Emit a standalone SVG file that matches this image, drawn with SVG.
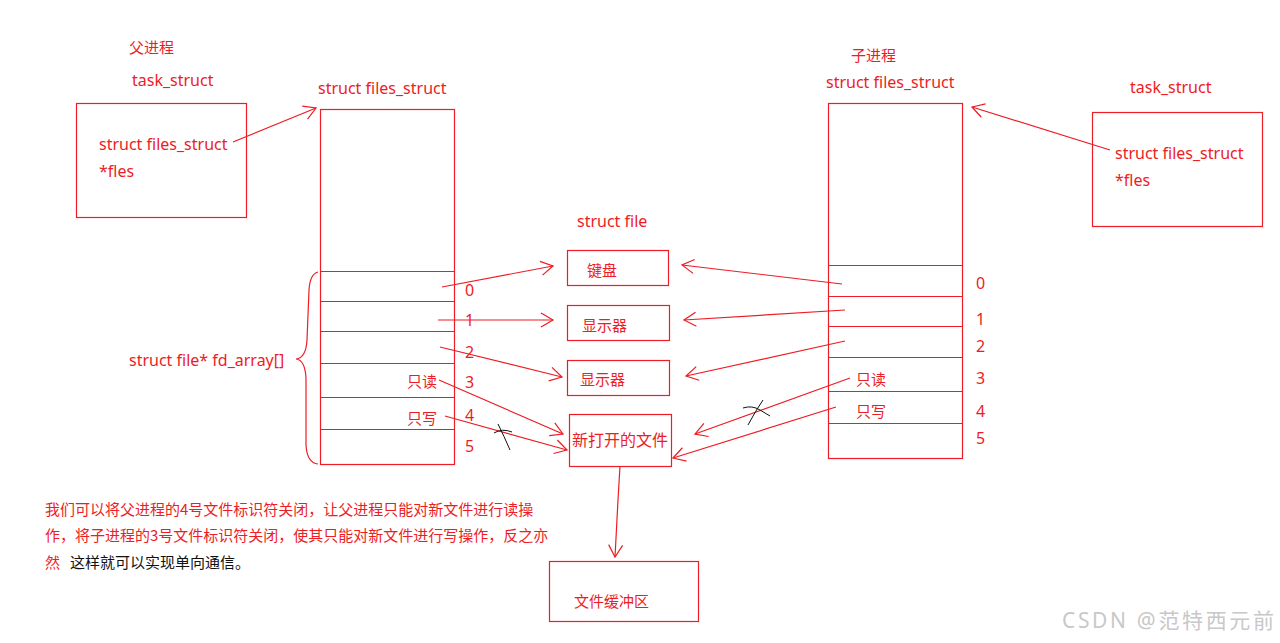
<svg xmlns="http://www.w3.org/2000/svg" width="1280" height="643" viewBox="0 0 1280 643">
<defs>
<style>
.t{font-family:"Noto Sans","Noto Sans CJK SC",sans-serif;font-size:16px;fill:#ee1c24}
.c{font-family:"Noto Sans CJK SC",sans-serif;font-size:15px;fill:#ee1c24}
.p{font-family:"Noto Sans CJK SC",sans-serif;font-size:15px;fill:#ee1c24}
.box{fill:none;stroke:#ee1c24;stroke-width:1.2}
.ln{stroke:#ee1c24;stroke-width:1.2}
.ar{fill:none;stroke:#ee1c24;stroke-width:1.2;marker-end:url(#ah)}
.x{fill:none;stroke:#111;stroke-width:1}
</style>
<marker id="ah" viewBox="-14 -8 16 16" refX="0" refY="0" markerWidth="16" markerHeight="16" markerUnits="userSpaceOnUse" orient="auto">
<polyline points="-12,-7 0,0 -12,7" fill="none" stroke="#ee1c24" stroke-width="1.2"/>
</marker>
</defs>
<rect width="1280" height="643" fill="#fff"/>

<g id="parent-task">
<text x="129" y="53" class="c">父进程</text>
<text x="132" y="86" class="t">task_struct</text>
<rect x="76.5" y="103.5" width="170" height="114" class="box"/>
<text x="99" y="150" class="t">struct files_struct</text>
<text x="99" y="177" class="t">*fles</text>
</g>

<g id="parent-files">
<text x="318" y="94" class="t">struct files_struct</text>
<rect x="320.5" y="109.5" width="134" height="355" class="box"/>
<path d="M320 271.5H454M320 301.5H454M320 331.5H454M320 363.5H454M320 397.5H454M320 429.5H454" class="ln"/>
<text x="465" y="296" class="t">0</text>
<text x="465" y="326" class="t">1</text>
<text x="465" y="358" class="t">2</text>
<text x="465" y="388" class="t">3</text>
<text x="465" y="421" class="t">4</text>
<text x="465" y="452" class="t">5</text>
<text x="407" y="387" class="c">只读</text>
<text x="407" y="424" class="c">只写</text>
<path d="M318 272 Q310 274 309 290 L307 340 Q306 358 296 359 Q305 360 306 378 L306 445 Q307 463 318 464" fill="none" class="ln"/>
<text x="129" y="366" class="t">struct file* fd_array[]</text>
</g>

<g id="struct-file">
<text x="577" y="227" class="t">struct file</text>
</g>
<g id="keyboard">
<rect x="567.5" y="250.5" width="101" height="35" class="box"/>
<text x="587" y="276" class="c">键盘</text>
</g>
<g id="display1">
<rect x="567.5" y="305.5" width="102" height="35" class="box"/>
<text x="582" y="331" class="c">显示器</text>
</g>
<g id="display2">
<rect x="567.5" y="360.5" width="102" height="35" class="box"/>
<text x="580" y="385" class="c">显示器</text>
</g>
<g id="newfile">
<rect x="569.5" y="414.5" width="102" height="52" class="box"/>
<text x="572" y="446" class="c" style="font-size:16px">新打开的文件</text>
</g>
<g id="buffer">
<rect x="549.5" y="561.5" width="149" height="60" class="box"/>
<text x="574" y="607" class="c">文件缓冲区</text>
</g>

<g id="child-files">
<text x="851" y="61" class="c">子进程</text>
<text x="826" y="88" class="t">struct files_struct</text>
<rect x="828.5" y="103.5" width="134" height="355" class="box"/>
<path d="M828 265.5H962M828 296.5H962M828 326.5H962M828 357.5H962M828 391.5H962M828 423.5H962" class="ln"/>
<text x="976" y="289" class="t">0</text>
<text x="976" y="325" class="t">1</text>
<text x="976" y="352" class="t">2</text>
<text x="976" y="384" class="t">3</text>
<text x="976" y="417" class="t">4</text>
<text x="976" y="444" class="t">5</text>
<text x="856" y="385" class="c">只读</text>
<text x="856" y="417" class="c">只写</text>
</g>

<g id="child-task">
<text x="1130" y="93" class="t">task_struct</text>
<rect x="1092.5" y="112.5" width="170" height="114" class="box"/>
<text x="1115" y="159" class="t">struct files_struct</text>
<text x="1115" y="186" class="t">*fles</text>
</g>

<g id="connectors">
<path d="M233 142L316 108" class="ar"/>
<path d="M1110 150L972 107" class="ar"/>
<path d="M442 287L553 266" class="ar"/>
<path d="M438 320L553 320" class="ar"/>
<path d="M440 347L562 377" class="ar"/>
<path d="M439 380L563 434" class="ar"/>
<path d="M445 416L567 450" class="ar"/>
<path d="M842 284L682 265" class="ar"/>
<path d="M845 310L684 320" class="ar"/>
<path d="M845 341L686 376" class="ar"/>
<path d="M850 378L695 434" class="ar"/>
<path d="M836 407L673 458" class="ar"/>
<path d="M620 466L618 500L615 557" class="ar"/>
<path d="M494 433Q502 428 512 432M498 424Q504 436 510 450" class="x"/>
<path d="M743 408Q752 405 760 410L770 416M763 400Q756 410 748 425" class="x"/>
</g>

<g id="note">
<text x="45" y="515" class="p">我们可以将父进程的4号文件标识符关闭，让父进程只能对新文件进行读操</text>
<text x="45" y="541" class="p">作，将子进程的3号文件标识符关闭，使其只能对新文件进行写操作，反之亦</text>
<text x="45" y="568" class="p">然</text>
<text x="70" y="568" class="p" style="fill:#111">这样就可以实现单向通信。</text>
</g>
<text x="1062" y="628" textLength="212" style="font-family:'Noto Sans','Noto Sans CJK SC',sans-serif;font-size:21px;fill:#c8c8c8">CSDN @范特西元前</text>
</svg>
